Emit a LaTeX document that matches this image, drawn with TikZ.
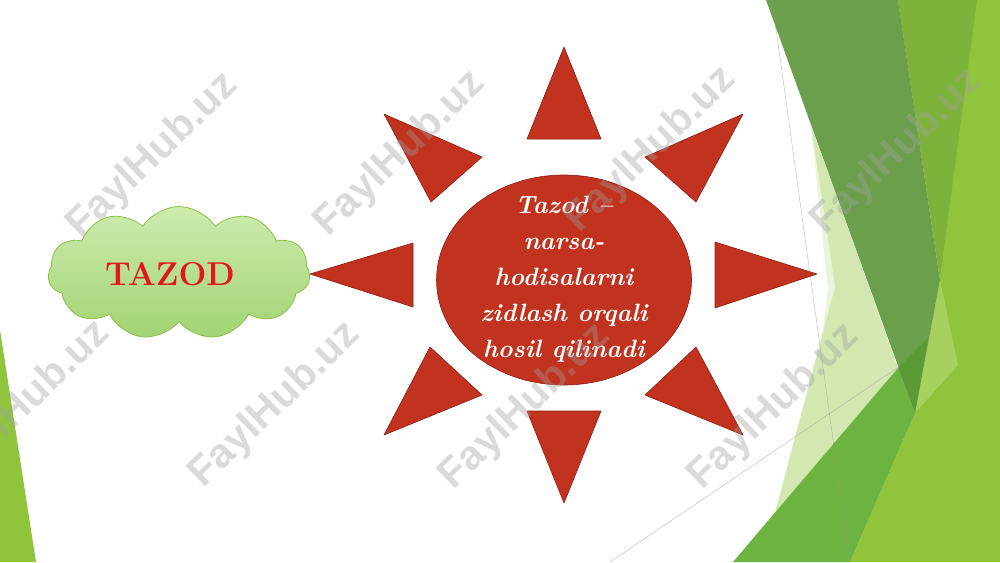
\documentclass[tikz,border=0pt]{standalone}
\usepackage{fontspec}
\newfontfamily\wmfont{Liberation Sans}
\usetikzlibrary{shapes.symbols,shapes.geometric}
\definecolor{sunred}{HTML}{C1321F}
\definecolor{sunline}{HTML}{8E1E12}
\definecolor{tazodred}{HTML}{E3161B}
\definecolor{cloudtop}{HTML}{CDEBAE}
\definecolor{cloudbot}{HTML}{A2D373}
\definecolor{cloudline}{HTML}{8CBF45}
\definecolor{ygreen}{HTML}{8FC43C}
\definecolor{mgreen}{HTML}{7DB33A}
\definecolor{lgreen}{HTML}{A6D15E}
\definecolor{dgreen}{HTML}{6B9F4B}
\definecolor{pgreen}{HTML}{D3E8B0}
\definecolor{vpgreen}{HTML}{E9F4DA}
\definecolor{midgreen}{HTML}{6DB33F}
\definecolor{ddgreen}{HTML}{5A9B35}
\definecolor{wmgray}{HTML}{A0A0A0}
\tikzset{
  ray/.style={fill=sunred, draw=sunline, line width=0.6pt, line join=round},
  wm/.style={font=\wmfont\bfseries\fontsize{41}{41}\selectfont, text=wmgray, text opacity=0.38, rotate=44, inner sep=0},
  guide/.style={draw=black!40, line width=0.5pt, opacity=0.6}
}
\begin{document}
\begin{tikzpicture}[x=1pt,y=-1pt]
\useasboundingbox (0,0) rectangle (1000,562);
\fill[white] (0,0) rectangle (1000,562);
% right facets
\fill[ygreen] (898,0) -- (1000,0) -- (1000,562) -- (850,562) -- (915,413) -- (940,280) -- cycle;
\fill[mgreen] (898,0) -- (977,0) -- (940,278) -- cycle;
\fill[lgreen] (940,280) -- (958,365) -- (915,413) -- cycle;
\fill[dgreen] (766,0) -- (898,0) -- (940,280) -- (915,413) -- cycle;
\fill[vpgreen] (811,125) -- (835,287) -- (775,513) -- (800,513) -- (828,290) -- cycle;
\fill[pgreen] (811,125) -- (898,368) -- (775,513) -- (835,287) -- cycle;
\fill[midgreen] (733,562) -- (898,368) -- (915,413) -- (850,562) -- cycle;
\fill[ddgreen] (898,368) -- (928,338) -- (915,413) -- cycle;
% left sliver
\fill[ygreen] (0,330) -- (36,562) -- (0,562) -- cycle;
% guide lines
\coordinate (g1a) at (772,0);
\coordinate (g1b) at (850,562);
\coordinate (g2a) at (610,562);
\coordinate (g2b) at (900,366);
\draw[guide] (g1a) -- (g1b);
\draw[guide] (g2a) -- (g2b);
% cloud
\node[cloud, cloud puffs=11, cloud puff arc=115, aspect=2, minimum width=262pt, minimum height=133pt,
      inner sep=0, draw=cloudline, line width=0.8pt, top color=cloudtop, bottom color=cloudbot] (cloud) at (179,273) {};
\node[font=\fontsize{33}{33}\selectfont\bfseries, text=tazodred] (tazod) at (170,274) {TAZOD};
% rays
\fill[ray] (564,47) -- (601,139) -- (527,139) -- cycle;
\fill[ray] (564,503) -- (601,411) -- (527,411) -- cycle;
\fill[ray] (310,274) -- (413,243) -- (413,307) -- cycle;
\fill[ray] (817,274) -- (715,242) -- (715,308) -- cycle;
\fill[ray] (384,114) -- (482,157) -- (431,202) -- cycle;
\fill[ray] (743,114) -- (645,157) -- (696,202) -- cycle;
\fill[ray] (430,347) -- (482,395) -- (384,435) -- cycle;
\fill[ray] (696,347) -- (645,395) -- (743,435) -- cycle;
% sun
\node[ellipse, minimum width=255pt, minimum height=210pt, inner sep=0, fill=sunred, draw=sunline, line width=0.6pt] (sun) at (564,280) {};
\node[align=center, text=white, font=\fontsize{25}{36}\selectfont\bfseries\itshape] (def) at (564,279)
  {Tazod –\\narsa-\\hodisalarni\\zidlash orqali\\hosil qilinadi};
% watermarks
\node[wm] (wm1) at (153,156) {FaylHub.uz};
\node[wm] (wm2) at (400,154) {FaylHub.uz};
\node[wm] (wm3) at (651,150) {FaylHub.uz};
\node[wm] (wm4) at (897,152) {FaylHub.uz};
\node[wm] (wm5) at (25,404) {FaylHub.uz};
\node[wm] (wm6) at (275,405) {FaylHub.uz};
\node[wm] (wm7) at (525,407) {FaylHub.uz};
\node[wm] (wm8) at (774,407) {FaylHub.uz};
\end{tikzpicture}
\end{document}
